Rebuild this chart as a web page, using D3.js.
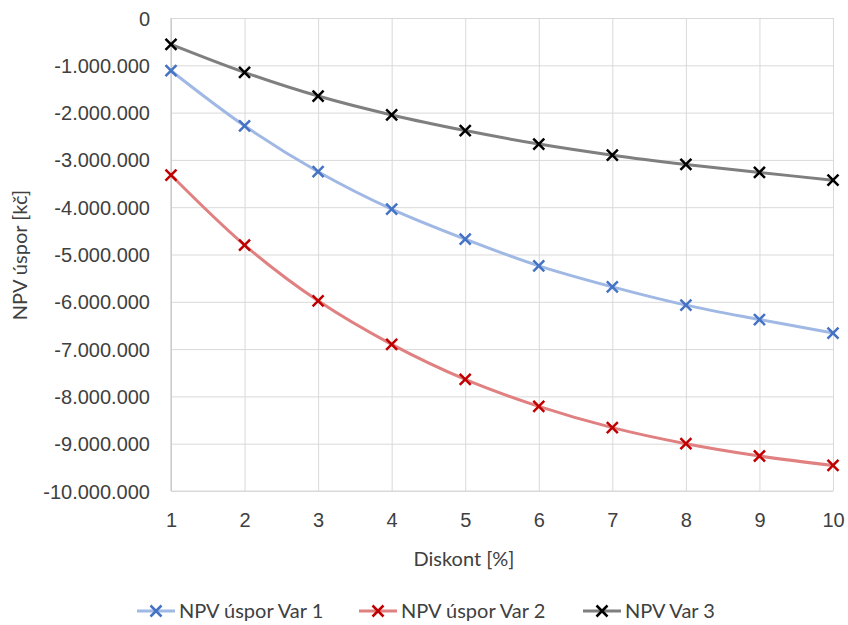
<!DOCTYPE html>
<html lang="cs">
<head>
<meta charset="UTF-8">
<script src="https://d3js.org/d3.v7.min.js"></script>
<style>
  body { margin: 0; background: #fff; font-family: Lato, "Open Sans", Arial, sans-serif; }
  .grid line { stroke: #d9d9d9; stroke-width: 1; }
  .grid path { display: none; }
  .tick text { fill: #404040; font-size: 20px; }
</style>
</head>
<body>
<div id="chart"></div>
<script>
// discount rates (x categories)
const diskont = [1, 2, 3, 4, 5, 6, 7, 8, 9, 10];
// series values [kč]
const var1 = [-1115000, -2280000, -3250000, -4040000, -4675000, -5240000, -5685000, -6070000, -6375000, -6660000];
const var2 = [-3320000, -4800000, -5980000, -6900000, -7640000, -8210000, -8660000, -9000000, -9260000, -9460000];
const var3 = [-557000, -1149000, -1650000, -2050000, -2380000, -2665000, -2900000, -3095000, -3265000, -3430000];
const yTicks = [0, -1000000, -2000000, -3000000, -4000000, -5000000, -6000000, -7000000, -8000000, -9000000, -10000000];

const series = [
  { name: "NPV úspor Var 1", values: var1, line: "#a0b8e4", mark: "#4472c4" },
  { name: "NPV úspor Var 2", values: var2, line: "#e08080", mark: "#c00000" },
  { name: "NPV Var 3", values: var3, line: "#7f7f7f", mark: "#000000" }
];

const W = 848, H = 625;
const plotL = 171, plotR = 833, plotT = 18, plotB = 491;

const svg = d3.select("#chart").append("svg")
  .attr("width", W).attr("height", H);

const x = d3.scaleLinear().domain([1, 10]).range([plotL, plotR]);
const y = d3.scaleLinear().domain([-10000000, 0]).range([plotB, plotT]);

// czech style thousands separator
const fmt = v => d3.format(",")(v).replace(/,/g, ".").replace("−", "-");

// horizontal grid + y labels
svg.append("g").attr("class", "grid")
  .attr("transform", `translate(${plotL},0)`)
  .call(d3.axisLeft(y).tickValues(yTicks).tickSize(-(plotR - plotL)).tickFormat(fmt).tickPadding(21))
  .call(g => g.selectAll(".tick text").attr("dy", "0.35em"));

// vertical grid + x labels
svg.append("g").attr("class", "grid")
  .attr("transform", `translate(0,${plotB})`)
  .call(d3.axisBottom(x).tickValues(diskont).tickSize(-(plotB - plotT)).tickFormat(d3.format("d")).tickPadding(22));

// axis lines
svg.append("line").attr("x1", plotL).attr("x2", plotL).attr("y1", plotT).attr("y2", plotB)
  .attr("stroke", "#bfbfbf");
svg.append("line").attr("x1", plotL).attr("x2", plotR).attr("y1", plotB).attr("y2", plotB)
  .attr("stroke", "#d9d9d9");

const line = d3.line()
  .x((d, i) => x(diskont[i]))
  .y(d => y(d))
  .curve(d3.curveCatmullRom.alpha(0.5));

function cross(sel, cx, cy, color) {
  const s = 5.5;
  sel.append("path")
    .attr("d", `M${cx - s},${cy - s}L${cx + s},${cy + s}M${cx - s},${cy + s}L${cx + s},${cy - s}`)
    .attr("stroke", color).attr("stroke-width", 2.5).attr("fill", "none");
}

series.forEach(s => {
  svg.append("path").datum(s.values)
    .attr("d", line)
    .attr("fill", "none")
    .attr("stroke", s.line)
    .attr("stroke-width", 3);
  const g = svg.append("g");
  s.values.forEach((v, i) => cross(g, x(diskont[i]), y(v), s.mark));
});

// axis titles
svg.append("text")
  .attr("x", 464).attr("y", 559).attr("dy", "0.35em")
  .attr("text-anchor", "middle")
  .attr("fill", "#404040").style("font-size", "20px")
  .text("Diskont [%]");

svg.append("text")
  .attr("transform", "translate(20,255) rotate(-90)")
  .attr("dy", "0.35em")
  .attr("text-anchor", "middle")
  .attr("fill", "#404040").style("font-size", "20px")
  .text("NPV úspor [kč]");

// legend
const legendX = [137, 359, 583];
series.forEach((s, i) => {
  const lx = legendX[i], ly = 611;
  const g = svg.append("g");
  g.append("line").attr("x1", lx).attr("x2", lx + 38).attr("y1", ly).attr("y2", ly)
    .attr("stroke", s.line).attr("stroke-width", 3);
  cross(g, lx + 19, ly, s.mark);
  g.append("text").attr("x", lx + 42).attr("y", ly).attr("dy", "0.35em")
    .attr("fill", "#404040").style("font-size", "20px")
    .text(s.name);
});
</script>
</body>
</html>
